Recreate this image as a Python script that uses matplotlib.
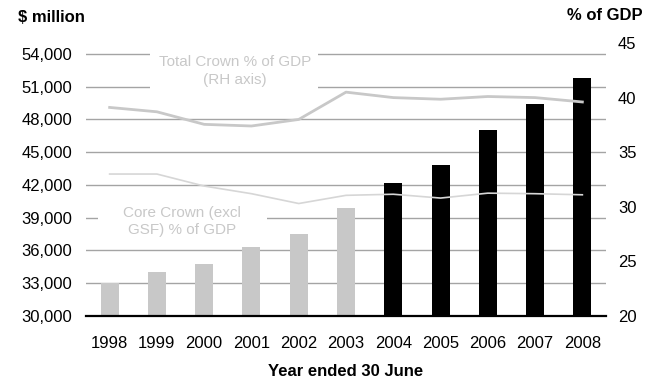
import matplotlib
matplotlib.use("Agg")
import matplotlib.pyplot as plt
from matplotlib.patches import Rectangle
import numpy as np

plt.rcParams["font.family"] = ["Liberation Sans", "DejaVu Sans"]

years = ["1998", "1999", "2000", "2001", "2002", "2003",
         "2004", "2005", "2006", "2007", "2008"]
spending = [33000, 34000, 34750, 36300, 37500, 39850,
            42200, 43850, 47050, 49400, 51800]
bar_colors = ["#c8c8c8"] * 6 + ["#000000"] * 5
total_crown_pct = [39.1, 38.7, 37.55, 37.4, 38.0, 40.5,
                   40.0, 39.85, 40.1, 40.0, 39.6]
core_crown_pct = [33.0, 33.0, 31.9, 31.2, 30.3, 31.05,
                  31.15, 30.8, 31.25, 31.2, 31.1]
left_ticks = [30000, 33000, 36000, 39000, 42000, 45000, 48000, 51000, 54000]
right_ticks = [20, 25, 30, 35, 40, 45]

W, H = 659, 378
fig = plt.figure(figsize=(W / 100, H / 100), dpi=100)
ax = fig.add_axes([86 / W, 1 - 316 / H, 520 / W, 273 / H])
x = np.arange(len(years))

ax.set_xlim(-0.5, len(years) - 0.5)
ax.set_ylim(30000, 55000)
for t in left_ticks[1:]:
    ax.axhline(t, color="#a4a4a4", lw=1.0, zorder=1)
ax.bar(x, spending, width=0.38, color=bar_colors, zorder=2)

ax.set_yticks(left_ticks)
ax.set_yticklabels([f"{v:,}" for v in left_ticks], fontsize=12)
ax.set_xticks(x)
ax.set_xticklabels(years, fontsize=12)
ax.tick_params(axis="both", length=0)
ax.tick_params(axis="y", pad=10)
ax.tick_params(axis="x", pad=14.5)
for s in ["top", "right", "left"]:
    ax.spines[s].set_visible(False)
ax.spines["bottom"].set_linewidth(1.6)
ax.spines["bottom"].set_zorder(5)
ax.set_xlabel("Year ended 30 June", fontsize=12, fontweight="bold", labelpad=9.5)

ax2 = ax.twinx()
ax2.set_ylim(20, 45)
ax2.set_yticks(right_ticks)
ax2.set_yticklabels([str(v) for v in right_ticks], fontsize=12)
ax2.tick_params(axis="y", length=0, pad=8.6)
for s in ["top", "right", "left", "bottom"]:
    ax2.spines[s].set_visible(False)
ax2.plot(x, total_crown_pct, color="#c8c8c8", lw=2.0, zorder=3)
ax2.plot(x, core_crown_pct, color="#d6d6d6", lw=1.2, zorder=3)

# white label boxes that interrupt the gridlines
for (bx, by, bw, bh) in [(150, 44, 168, 48), (98, 203, 169, 36)]:
    fig.add_artist(Rectangle((bx / W, 1 - (by + bh) / H), bw / W, bh / H,
                             transform=fig.transFigure, facecolor="white",
                             edgecolor="none", zorder=2.5))

fig.text(235 / W, 1 - 71 / H, "Total Crown % of GDP\n(RH axis)", ha="center",
         va="center", fontsize=11, color="#c8c8c8", linespacing=1.3, zorder=4)
fig.text(182 / W, 1 - 221.5 / H, "Core Crown (excl\nGSF) % of GDP", ha="center",
         va="center", fontsize=11, color="#c8c8c8", linespacing=1.2, zorder=4)

fig.text(18 / W, 1 - 17 / H, "$ million", fontsize=12, fontweight="bold",
         ha="left", va="center")
fig.text(643 / W, 1 - 16 / H, "% of GDP", fontsize=12, fontweight="bold",
         ha="right", va="center")

fig.savefig("out.png", dpi=100)
